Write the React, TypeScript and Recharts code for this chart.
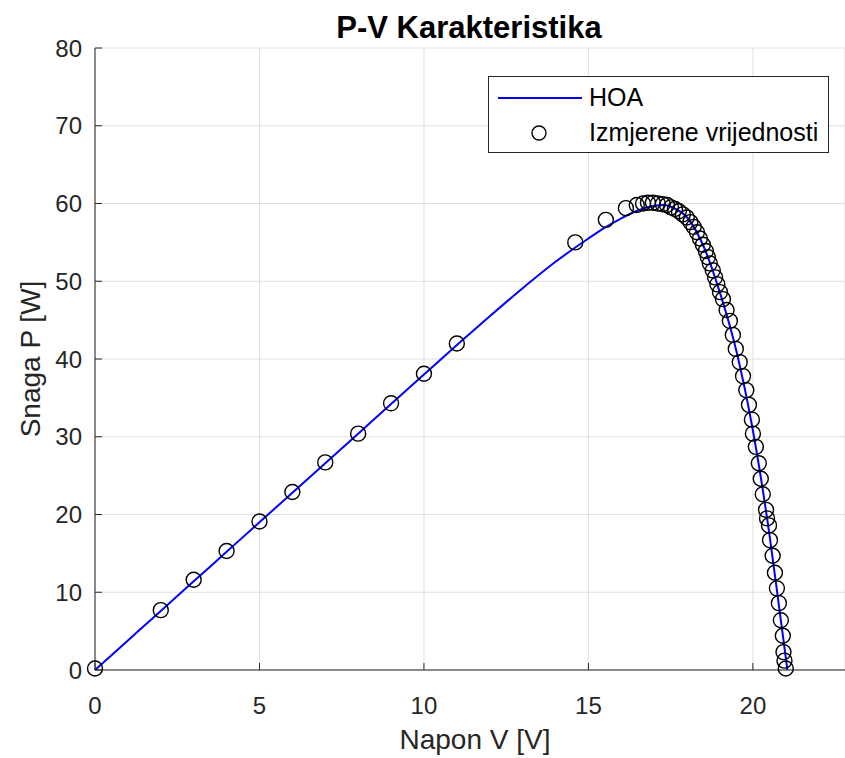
import {
  CartesianGrid,
  ComposedChart,
  Line,
  Scatter,
  XAxis,
  YAxis,
} from 'recharts';

// HOA model curve (V, P)
const HOA_V = [0, 1, 2, 3, 4, 5, 6, 7, 8, 9, 10, 11, 12, 13, 14, 15, 15.5, 16, 16.5, 17, 17.3, 17.6, 18, 18.5, 19, 19.5, 20, 20.5, 20.8, 21.05];
const HOA_P = [0, 3.8, 7.6, 11.4, 15.2, 19.0, 22.8, 26.6, 30.4, 34.2, 38.0, 41.8, 45.5, 49.1, 52.5, 55.5, 56.9, 58.1, 59.1, 59.7, 59.8, 59.4, 58.2, 54.5, 48.5, 41.0, 30.8, 17.5, 8.0, 0];

// measured points (Izmjerene vrijednosti)
const MEAS_V = [
  0, 2, 3, 4, 5, 6, 7, 8, 9, 10, 11, 14.6, 15.53, 16.14, 16.47, 16.66, 16.81, 16.96,
  17.11, 17.26, 17.39, 17.51, 17.63, 17.75, 17.87, 17.99, 18.1, 18.2, 18.3, 18.39,
  18.48, 18.57, 18.63, 18.69, 18.78, 18.85, 18.92, 19.0, 19.09, 19.2, 19.3, 19.39,
  19.48, 19.6, 19.7, 19.8, 19.88, 19.97, 20.0, 20.09, 20.18, 20.24, 20.3, 20.4,
  20.43, 20.49, 20.52, 20.6, 20.67, 20.73, 20.79, 20.85, 20.91, 20.93, 20.96, 21.0,
];
const MEAS_P = [
  0.2, 7.7, 11.6, 15.3, 19.1, 22.9, 26.7, 30.4, 34.3, 38.1, 42.0, 55.0, 57.9, 59.4, 59.8, 60.0, 60.1, 60.1,
  60.0, 59.9, 59.8, 59.5, 59.3, 59.0, 58.6, 58.2, 57.6, 57.0, 56.3, 55.5,
  54.7, 53.9, 53.1, 52.3, 51.4, 50.5, 49.6, 48.6, 47.7, 46.3, 44.9, 43.1,
  41.3, 39.6, 37.8, 36.0, 34.1, 32.2, 30.4, 28.7, 26.6, 24.6, 22.6, 20.6,
  19.5, 18.6, 16.7, 14.7, 12.5, 10.5, 8.6, 6.4, 4.4, 2.3, 1.2, 0.2,
];

const X_TICKS = [0, 5, 10, 15, 20];
const Y_TICKS = [0, 10, 20, 30, 40, 50, 60, 70, 80];

const hoa = HOA_V.map((v, i) => ({ v, p: HOA_P[i] }));
const measured = MEAS_V.map((v, i) => ({ v, p: MEAS_P[i] }));

const FONT = '"Liberation Sans", Arial, sans-serif';
const AXIS = '#262626';
const tickStyle = { fontSize: 24, fill: AXIS, fontFamily: FONT };
const labelStyle = { fontSize: 28, fill: AXIS, fontFamily: FONT, textAnchor: 'middle' as const };

const Ring = (props: any) => (
  <circle cx={props.cx} cy={props.cy} r={7.5} fill="none" stroke="#000" strokeWidth={1.4} />
);

function LegendBox() {
  return (
    <div
      style={{
        position: 'absolute',
        left: 488,
        top: 76,
        width: 339,
        height: 75,
        border: `1px solid ${AXIS}`,
        background: '#fff',
        fontFamily: FONT,
        fontSize: 25,
        color: '#000',
      }}
    >
      <svg width={100} height={75} style={{ position: 'absolute', left: 0, top: 0 }}>
        <line x1={9} x2={93} y1={21} y2={21} stroke="#0000ff" strokeWidth={2} />
        <circle cx={50} cy={56} r={7} fill="none" stroke="#000" strokeWidth={1.4} />
      </svg>
      <span style={{ position: 'absolute', left: 100, top: 6 }}>HOA</span>
      <span style={{ position: 'absolute', left: 100, top: 41 }}>Izmjerene vrijednosti</span>
    </div>
  );
}

export default function App() {
  return (
    <div style={{ position: 'absolute', left: 0, top: 0, width: 845, height: 758, background: '#fff' }}>
      <ComposedChart
        width={845}
        height={758}
        margin={{ top: 48, right: 0, bottom: 0, left: 0 }}
        style={{ position: 'absolute', left: 0, top: 0 }}
      >
        <CartesianGrid stroke="#e0e0e0" strokeWidth={1} />
        <XAxis
          xAxisId="top"
          orientation="top"
          type="number"
          dataKey="v"
          domain={[0, 22.8]}
          ticks={X_TICKS}
          height={0}
          tickSize={-7}
          tickFormatter={() => ''}
          stroke={AXIS}
        />
        <XAxis
          type="number"
          dataKey="v"
          domain={[0, 22.8]}
          ticks={X_TICKS}
          height={88}
          tickSize={-7}
          tickMargin={34}
          tick={tickStyle}
          stroke={AXIS}
          label={{
            value: 'Napon V [V]',
            position: 'insideBottom',
            offset: 9,
            dx: 5,
            style: labelStyle,
          }}
        />
        <YAxis
          type="number"
          dataKey="p"
          domain={[0, 80]}
          ticks={Y_TICKS}
          width={95}
          tickSize={-7}
          tickMargin={20}
          tick={tickStyle}
          stroke={AXIS}
          label={{
            value: 'Snaga P [W]',
            angle: -90,
            position: 'insideLeft',
            offset: 30,
            style: labelStyle,
          }}
        />
        <Line
          data={hoa}
          dataKey="p"
          type="monotone"
          stroke="#0000ff"
          strokeWidth={2}
          dot={false}
          isAnimationActive={false}
          name="HOA"
        />
        <Scatter
          data={measured}
          dataKey="p"
          shape={Ring}
          isAnimationActive={false}
          name="Izmjerene vrijednosti"
        />
      </ComposedChart>
      <div
        style={{
          position: 'absolute',
          top: 10,
          left: 0,
          width: 938,
          textAlign: 'center',
          fontFamily: FONT,
          fontWeight: 'bold',
          fontSize: 31,
          color: '#000',
        }}
      >
        P-V Karakteristika
      </div>
      <LegendBox />
    </div>
  );
}
